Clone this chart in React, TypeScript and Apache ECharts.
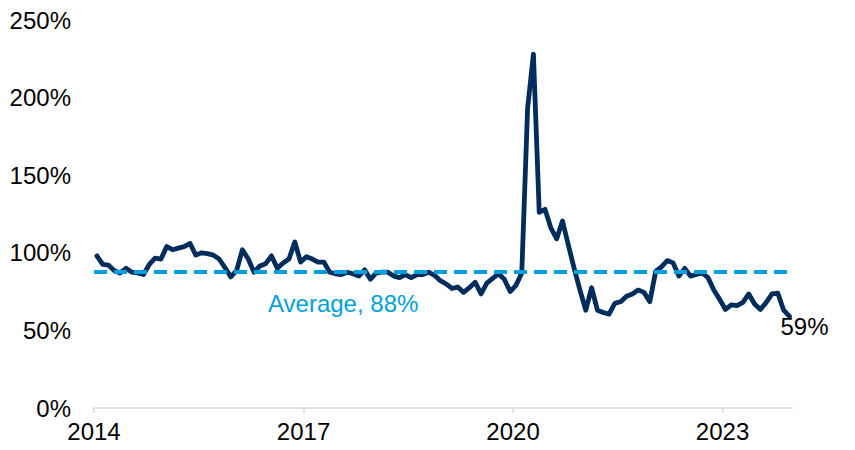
import React, { useEffect, useRef } from "react";
import * as echarts from "echarts";

// Monthly values, Jan 2014 – Dec 2023 (%)
const values2014 = [98, 92.5, 92, 88.5, 87, 90, 87.5, 87, 86, 92.5, 96.5, 96];
const values2015 = [104, 102, 103, 104, 106, 98.5, 100, 99.5, 98.5, 96, 90.5, 84.5];
const values2016 = [88.5, 102, 96, 87.5, 91.5, 93, 98, 90, 93.5, 96, 107, 94];
const values2017 = [97.5, 96, 94, 94, 87.5, 86.5, 86, 87.5, 86.5, 85, 89, 83];
const values2018 = [87, 87.5, 87.5, 85, 84, 86, 84, 86, 86, 87.5, 85.5, 82];
const values2019 = [80, 77, 78, 74.5, 77.5, 81, 73.5, 80.5, 83.5, 86.5, 83, 75];
const values2020 = [79, 87, 193, 228, 126, 128, 116, 109, 120.5, 105, 90, 76];
const values2021 = [63, 77.5, 63, 61.5, 60.5, 67.5, 68.5, 72, 73.5, 76, 74.5, 68.5];
const values2022 = [88, 91, 95, 93.5, 85, 90, 85, 86, 87, 84, 76, 70];
const values2023 = [63.5, 66.5, 66, 68, 73.5, 67, 63.5, 68, 73.5, 74, 63, 59];

const startYear = 2014;
const averageValue = 88;
const averageLabel = "Average, 88%";
const yTicks = [0, 50, 100, 150, 200, 250];

const allValues = [
  ...values2014, ...values2015, ...values2016, ...values2017, ...values2018,
  ...values2019, ...values2020, ...values2021, ...values2022, ...values2023,
];

const NAVY = "#002D5C";
const BLUE = "#00A0DF";
const FONT = "'Liberation Sans', Arial, sans-serif";

export default function App() {
  const ref = useRef<HTMLDivElement>(null);
  useEffect(() => {
    if (!ref.current) return;
    const chart = echarts.init(ref.current, undefined, { renderer: "svg" });
    const data = allValues.map((v, i) => [i + 0.5, v]);
    chart.setOption({
      animation: false,
      grid: { left: 94, right: 62.6, top: 20, bottom: 42, containLabel: false },
      xAxis: {
        type: "value",
        min: 0,
        max: allValues.length,
        interval: 36,
        axisLine: { show: true, lineStyle: { color: "#D9D9D9", width: 1.5 } },
        axisTick: { show: true, length: 5, lineStyle: { color: "#D9D9D9", width: 1.5 } },
        splitLine: { show: false },
        axisLabel: {
          showMaxLabel: false,
          formatter: (v: number) => String(startYear + v / 12),
          color: "#000",
          fontSize: 24,
          fontFamily: FONT,
          margin: 11,
        },
      },
      yAxis: {
        type: "value",
        min: yTicks[0],
        max: yTicks[yTicks.length - 1],
        interval: 50,
        axisLine: { show: false },
        axisTick: { show: false },
        splitLine: { show: false },
        axisLabel: {
          formatter: (v: number) => v + "%",
          color: "#000",
          fontSize: 24,
          fontFamily: FONT,
          margin: 23,
        },
      },
      series: [
        {
          type: "line",
          data,
          symbol: "none",
          lineStyle: { color: NAVY, width: 4.8, cap: "round", join: "round" },
          endLabel: {
            show: true,
            formatter: (p: any) => Math.round(p.value[1]) + "%",
            color: "#000",
            fontSize: 24,
            fontFamily: FONT,
            distance: 0,
            offset: [-9, 10],
          },
          markLine: {
            silent: true,
            symbol: "none",
            label: { show: false },
            lineStyle: { color: BLUE, width: 4, type: [13, 7] },
            data: [{ yAxis: averageValue }],
          },
          z: 3,
        },
      ],
      graphic: [
        {
          type: "text",
          left: 268,
          top: 291,
          style: {
            text: averageLabel,
            fill: BLUE,
            fontSize: 24,
            fontFamily: FONT,
          },
        },
      ],
    });
    return () => chart.dispose();
  }, []);
  return (
    <div
      ref={ref}
      style={{ position: "absolute", left: 0, top: 0, width: 855, height: 450 }}
    />
  );
}
